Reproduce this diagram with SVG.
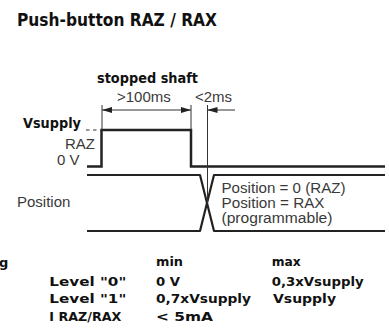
<svg xmlns="http://www.w3.org/2000/svg" width="389" height="329" viewBox="0 0 389 329">
<style>
.thin{font-family:"Liberation Sans",Arial,sans-serif;font-size:15px;fill:#3a3a3a}
.stack{font-size:14px}
.bold{font-family:"DejaVu Sans","Liberation Sans",sans-serif;font-weight:bold;fill:#111}
.sig{fill:none;stroke:#222;stroke-width:2.5}
.pos{fill:none;stroke:#222;stroke-width:2.2;stroke-linejoin:round}
.dim{fill:none;stroke:#333;stroke-width:1}
</style>
<defs>
<marker id="arr" viewBox="0 0 10 6" refX="10" refY="3" markerWidth="10" markerHeight="6" markerUnits="userSpaceOnUse" orient="auto">
<path d="M0,0 L10,3 L0,6 Z" fill="#222"/>
</marker>
</defs>
<rect width="389" height="329" fill="#fff"/>
<g id="title">
<text class="bold" x="17" y="26" font-size="17" textLength="200" lengthAdjust="spacingAndGlyphs">Push-button RAZ / RAX</text>
</g>
<g id="labels">
<text class="bold" x="97" y="83" font-size="14" textLength="101" lengthAdjust="spacingAndGlyphs">stopped shaft</text>
<text class="thin" x="117" y="101.5">&gt;100ms</text>
<text class="thin" x="195" y="101.5">&lt;2ms</text>
<text class="bold" x="23" y="128" font-size="14" textLength="58" lengthAdjust="spacingAndGlyphs">Vsupply</text>
<text class="thin" x="95" y="149.3" text-anchor="end">RAZ</text>
<text class="thin" x="57" y="165">0 V</text>
<text class="thin" x="17" y="206.5">Position</text>
<text class="thin stack" x="221.5" y="193" textLength="124" lengthAdjust="spacingAndGlyphs">Position = 0 (RAZ)</text>
<text class="thin stack" x="221.5" y="208" textLength="103" lengthAdjust="spacingAndGlyphs">Position = RAX</text>
<text class="thin stack" x="221.5" y="223" textLength="111" lengthAdjust="spacingAndGlyphs">(programmable)</text>
</g>
<g id="connectors">
<path class="dim" d="M86,130 H89.5 M93,130 H96.5"/>
<path class="sig" d="M87,166.5 H101.5 V130 H191 V166.5 H385"/>
<path class="pos" d="M87,175 H200 L214,231 H385"/>
<path class="pos" d="M87,231 H200 L214,175 H385"/>
<path class="dim" d="M102,105 V130 M191,105 V130 M207.5,105 V203"/>
<path class="dim" d="M146,110 H102" marker-end="url(#arr)"/>
<path class="dim" d="M146,110 H191" marker-end="url(#arr)"/>
<path class="dim" d="M235,110 H207.5" marker-end="url(#arr)"/>
</g>
<g id="table" class="bold" font-size="13">
<text x="-1" y="266.5">g</text>
<text x="156" y="266" textLength="27" lengthAdjust="spacingAndGlyphs">min</text>
<text x="271.7" y="266" textLength="29" lengthAdjust="spacingAndGlyphs">max</text>
<text x="49.3" y="285.7" textLength="77" lengthAdjust="spacingAndGlyphs">Level "0"</text>
<text x="156" y="285.7" textLength="24" lengthAdjust="spacingAndGlyphs">0 V</text>
<text x="271.7" y="285.7" textLength="92" lengthAdjust="spacingAndGlyphs">0,3xVsupply</text>
<text x="49.3" y="303.3" textLength="77" lengthAdjust="spacingAndGlyphs">Level "1"</text>
<text x="156" y="303.3" textLength="95" lengthAdjust="spacingAndGlyphs">0,7xVsupply</text>
<text x="273" y="303.3" textLength="63" lengthAdjust="spacingAndGlyphs">Vsupply</text>
<text x="49.3" y="320.7" textLength="72" lengthAdjust="spacingAndGlyphs">I RAZ/RAX</text>
<text x="156" y="320.7" textLength="57" lengthAdjust="spacingAndGlyphs">&lt; 5mA</text>
</g>
</svg>
